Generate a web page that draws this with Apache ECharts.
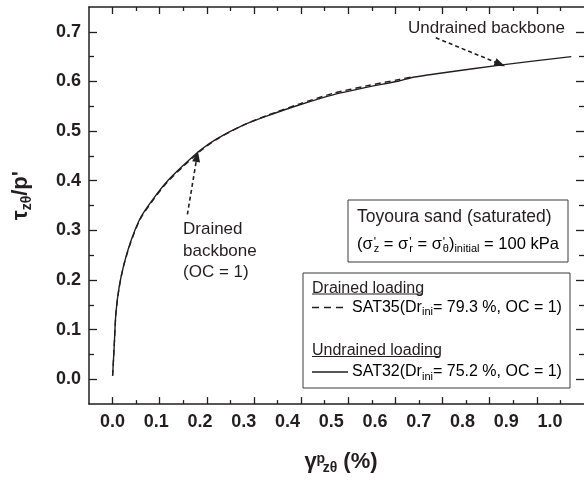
<!DOCTYPE html>
<html>
<head>
<meta charset="utf-8">
<script src="https://cdn.jsdelivr.net/npm/echarts@6/dist/echarts.min.js"></script>
<style>
  html, body { margin: 0; padding: 0; background: #fff; }
  #chart { width: 584px; height: 480px; }
</style>
</head>
<body>
<div id="chart"></div>
<script>
// Backbone curves: plastic shear strain gamma_zθ^p (%) against stress ratio τ_zθ/p'
const gammaUndrained = [0.0, 0.0036, 0.0075, 0.015, 0.026, 0.042, 0.064, 0.095, 0.125, 0.163, 0.201, 0.239, 0.299, 0.352, 0.428, 0.504, 0.580, 0.655, 0.685, 0.761, 0.886, 1.049];
const tauUndrained   = [0.007, 0.066, 0.133, 0.186, 0.232, 0.279, 0.326, 0.366, 0.399, 0.432, 0.462, 0.485, 0.512, 0.530, 0.553, 0.573, 0.588, 0.601, 0.608, 0.618, 0.633, 0.650];

const gammaDrained = [0.0, 0.0036, 0.0075, 0.015, 0.026, 0.042, 0.064, 0.095, 0.125, 0.163, 0.201, 0.239, 0.299, 0.352, 0.428, 0.504, 0.580, 0.655, 0.682];
const tauDrained   = [0.007, 0.066, 0.132, 0.185, 0.231, 0.277, 0.324, 0.364, 0.397, 0.430, 0.460, 0.484, 0.512, 0.531, 0.555, 0.576, 0.591, 0.604, 0.609];

// Axis label values
const xTickLabels = [0.0, 0.1, 0.2, 0.3, 0.4, 0.5, 0.6, 0.7, 0.8, 0.9, 1.0];
const yTickLabels = [0.0, 0.1, 0.2, 0.3, 0.4, 0.5, 0.6, 0.7];

// Tick-mark values of the frame scale
const xMajorTicks = [0.0, 0.1, 0.2, 0.3, 0.4, 0.5, 0.6, 0.7, 0.8, 0.9];
const xMinorTicks = [0.05, 0.15, 0.25, 0.35, 0.45, 0.55, 0.65, 0.75, 0.85, 0.95];
const yMinorTicks = [0.05, 0.15, 0.25, 0.35, 0.45, 0.55, 0.65];

// Annotation arrows (start -> end, in data coordinates)
const undrainedArrow = [[0.739, 0.688], [0.886, 0.635]];
const drainedArrow   = [[0.171, 0.332], [0.193, 0.449]];

const INK = '#231f20';
const FONT = '"Liberation Sans", Arial, Helvetica, sans-serif';

const zip = (xs, ys) => xs.map((x, i) => [x, ys[i]]);

const chart = echarts.init(document.getElementById('chart'), null, { renderer: 'canvas' });

const noSplit = { show: false };
const tickAxisX = (position, ticks, len, showLine) => ({
  type: 'value', position, min: -0.05, max: 1.0,
  axisLine: { show: showLine, onZero: false, lineStyle: { color: INK, width: 1.5 } },
  axisTick: { show: true, inside: true, length: len, customValues: ticks, lineStyle: { color: INK, width: 1.3 } },
  axisLabel: { show: false }, splitLine: noSplit
});
const tickAxisY = (position, ticks, len, showLine) => ({
  type: 'value', position, min: -0.05, max: 0.75,
  axisLine: { show: showLine, onZero: false, lineStyle: { color: INK, width: 1.5 } },
  axisTick: { show: true, inside: true, length: len, customValues: ticks, lineStyle: { color: INK, width: 1.3 } },
  axisLabel: { show: false }, splitLine: noSplit
});

const legendRich = {
  t: { fontSize: 16, fontFamily: FONT, color: INK, lineHeight: 20 },
  s: { fontSize: 11, fontFamily: FONT, color: INK, lineHeight: 11, verticalAlign: 'bottom', padding: [16, 0, 0, 0] }
};
const sigmaRich = {
  m: { fontSize: 16.5, fontFamily: FONT, color: INK, lineHeight: 20 },
  p: { fontSize: 12, fontFamily: FONT, color: INK, lineHeight: 12, verticalAlign: 'top', padding: [3, 0, 0, 1], width: 0 },
  s: { fontSize: 11, fontFamily: FONT, color: INK, lineHeight: 11, verticalAlign: 'bottom', padding: [15, 0, 0, 0] }
};

const option = {
  backgroundColor: '#ffffff',
  animation: false,
  grid: { left: 88, width: 498, top: 7, height: 401, containLabel: false },
  xAxis: [
    {
      type: 'value', position: 'bottom', min: -0.054, max: 1.078,
      name: '{m|γ}{sp|p}{sb|zθ}{m| (%)}',
      nameLocation: 'middle', nameGap: 33,
      nameTextStyle: {
        padding: [0, 0, 0, 9],
        rich: {
          m: { fontSize: 22, fontWeight: 'bold', fontFamily: FONT, color: INK, lineHeight: 26 },
          sp: { fontSize: 14, fontWeight: 'bold', fontFamily: FONT, color: INK, lineHeight: 14, verticalAlign: 'top', padding: [3, 0, 0, 4], width: 0 },
          sb: { fontSize: 14, fontWeight: 'bold', fontFamily: FONT, color: INK, lineHeight: 14, verticalAlign: 'bottom', padding: [25, 0, 0, 2] }
        }
      },
      axisLine: { show: true, onZero: false, lineStyle: { color: INK, width: 1.5 } },
      axisTick: { show: false },
      axisLabel: {
        customValues: xTickLabels, margin: 9,
        formatter: v => v.toFixed(1),
        fontSize: 18, fontWeight: 'bold', fontFamily: FONT, color: INK
      },
      splitLine: noSplit
    },
    tickAxisX('bottom', xMajorTicks, 7, false),
    tickAxisX('bottom', xMinorTicks, 4, false),
    tickAxisX('top', xMajorTicks, 7, true),
    tickAxisX('top', xMinorTicks, 4, false)
  ],
  yAxis: [
    {
      type: 'value', position: 'left', min: -0.05, max: 0.75,
      name: "{m|τ}{s|zθ}{m|/p'}",
      nameLocation: 'middle', nameGap: 55, nameRotate: 90,
      nameTextStyle: {
        padding: [0, 0, 0, 20],
        rich: {
          m: { fontSize: 22, fontWeight: 'bold', fontFamily: FONT, color: INK, lineHeight: 26 },
          s: { fontSize: 14, fontWeight: 'bold', fontFamily: FONT, color: INK, lineHeight: 14, verticalAlign: 'bottom', padding: [12, 0, 0, 0] }
        }
      },
      axisLine: { show: true, onZero: false, lineStyle: { color: INK, width: 1.5 } },
      axisTick: { show: true, inside: true, length: 8, customValues: yTickLabels, lineStyle: { color: INK, width: 1.3 } },
      axisLabel: {
        customValues: yTickLabels, margin: 8,
        formatter: v => v.toFixed(1),
        fontSize: 18, fontWeight: 'bold', fontFamily: FONT, color: INK
      },
      splitLine: noSplit
    },
    tickAxisY('left', yMinorTicks, 5, false),
    tickAxisY('right', yTickLabels, 8, false),
    tickAxisY('right', yMinorTicks, 5, false)
  ],
  series: [
    {
      name: 'SAT35 (drained)',
      type: 'line', xAxisIndex: 0, yAxisIndex: 0,
      data: zip(gammaDrained, tauDrained),
      showSymbol: false, smooth: 0.25, silent: true,
      lineStyle: { color: INK, width: 1.4, type: [6, 4] },
      z: 2
    },
    {
      name: 'SAT32 (undrained)',
      type: 'line', xAxisIndex: 0, yAxisIndex: 0,
      data: zip(gammaUndrained, tauUndrained),
      showSymbol: false, smooth: 0.25, silent: true,
      lineStyle: { color: INK, width: 1.4 },
      z: 3,
      markLine: {
        silent: true, animation: false,
        symbol: ['none', 'triangle'], symbolSize: [8, 11],
        label: { show: false },
        lineStyle: { color: INK, width: 1.6, type: [4, 3] },
        emphasis: { disabled: true },
        data: [
          [{ coord: undrainedArrow[0] }, { coord: undrainedArrow[1] }],
          [{ coord: drainedArrow[0] }, { coord: drainedArrow[1] }]
        ]
      }
    }
  ],
  graphic: [
    // curve annotations
    { type: 'text', left: 408, top: 20, silent: true,
      style: { text: 'Undrained backbone', font: '17px ' + FONT, fill: INK } },
    { type: 'text', left: 183, top: 219, silent: true,
      style: { text: 'Drained\nbackbone\n(OC = 1)', font: '17px ' + FONT, fill: INK, lineHeight: 21.5 } },

    // test conditions box
    { type: 'rect', silent: true, shape: { x: 348, y: 200, width: 220, height: 62 },
      style: { fill: '#fff', stroke: '#3a3a3a', lineWidth: 1 } },
    { type: 'text', silent: true, x: 357, y: 217,
      style: { text: 'Toyoura sand (saturated)', font: '17.5px ' + FONT, fill: INK, verticalAlign: 'middle' } },
    { type: 'text', silent: true, x: 357, y: 244,
      style: {
        text: "{m|(σ}{p|'}{s|z}{m| = σ}{p|'}{s|r}{m| = σ}{p|'}{s|θ}{m|)}{s|initial}{m| = 100 kPa}",
        rich: sigmaRich, verticalAlign: 'middle'
      } },

    // legend box
    { type: 'rect', silent: true, shape: { x: 303, y: 273, width: 267, height: 115 },
      style: { fill: '#fff', stroke: '#3a3a3a', lineWidth: 1 } },
    { type: 'text', silent: true, x: 312, y: 288.5,
      style: { text: 'Drained loading', font: '16px ' + FONT, fill: INK, verticalAlign: 'middle' } },
    { type: 'line', silent: true, shape: { x1: 312, y1: 294, x2: 423, y2: 294 },
      style: { stroke: INK, lineWidth: 1 } },
    { type: 'line', silent: true, shape: { x1: 312, y1: 307.5, x2: 348, y2: 307.5 },
      style: { stroke: INK, lineWidth: 1.3, lineDash: [7, 5] } },
    { type: 'text', silent: true, x: 352, y: 307.5,
      style: { text: '{t|SAT35(Dr}{s|ini}{t|= 79.3 %, OC = 1)}', rich: legendRich, verticalAlign: 'middle' } },
    { type: 'text', silent: true, x: 312, y: 351,
      style: { text: 'Undrained loading', font: '16px ' + FONT, fill: INK, verticalAlign: 'middle' } },
    { type: 'line', silent: true, shape: { x1: 312, y1: 356.5, x2: 440, y2: 356.5 },
      style: { stroke: INK, lineWidth: 1 } },
    { type: 'line', silent: true, shape: { x1: 312, y1: 372, x2: 348, y2: 372 },
      style: { stroke: INK, lineWidth: 1.3 } },
    { type: 'text', silent: true, x: 352, y: 372,
      style: { text: '{t|SAT32(Dr}{s|ini}{t|= 75.2 %, OC = 1)}', rich: legendRich, verticalAlign: 'middle' } }
  ]
};

chart.setOption(option);
</script>
</body>
</html>
